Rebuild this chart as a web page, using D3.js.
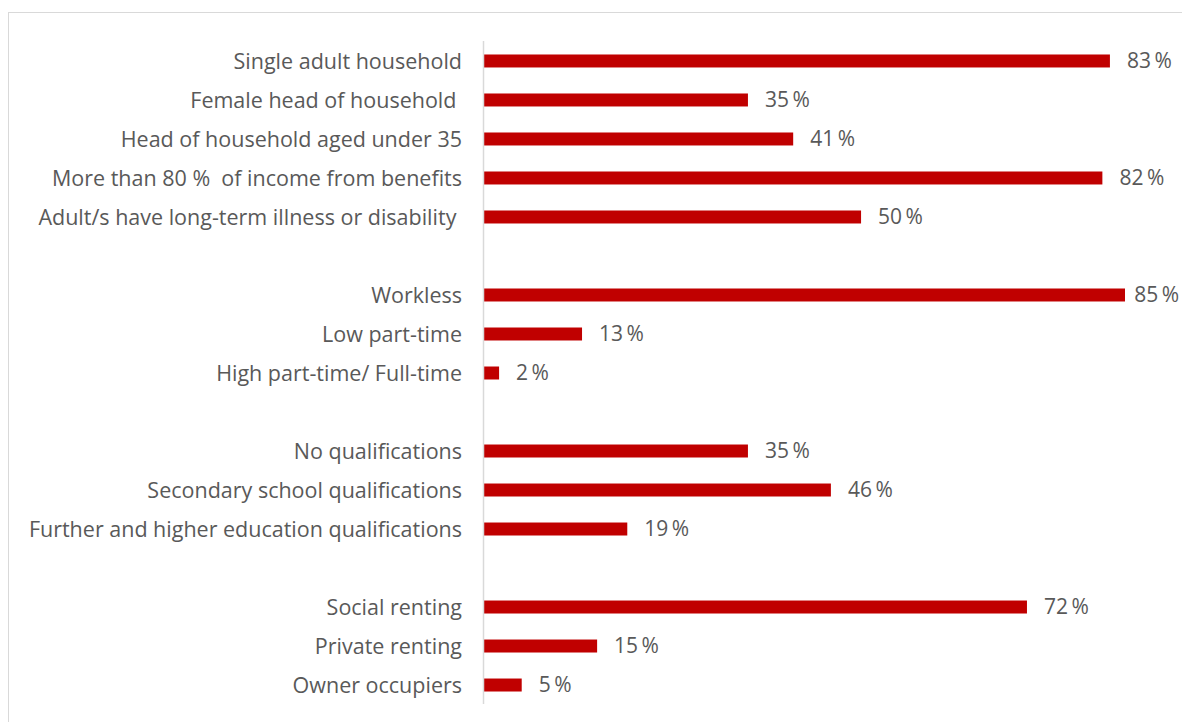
<!DOCTYPE html>
<html><head><meta charset="utf-8">
<script src="https://cdn.jsdelivr.net/npm/d3@7"></script>
<style>body{margin:0;background:#fff;} text{font-family:"Open Sans",sans-serif;}</style>
</head><body>
<svg id="c" width="1182" height="722"></svg>
<script>
const categories = [
  "Single adult household","Female head of household ","Head of household aged under 35",
  "More than 80 %  of income from benefits","Adult/s have long-term illness or disability ",
  null,
  "Workless","Low part-time","High part-time/ Full-time",
  null,
  "No qualifications","Secondary school qualifications","Further and higher education qualifications",
  null,
  "Social renting","Private renting","Owner occupiers"
];
const values = [83,35,41,82,50,null,85,13,2,null,35,46,19,null,72,15,5];

const svg = d3.select("#c");
svg.append("rect").attr("x",8.5).attr("y",12.5).attr("width",1200).attr("height",760)
  .attr("fill","none").attr("stroke","#d9d9d9");

const rows = categories.map((c,i)=>({i, c, v: values[i]}));
const y = d3.scaleBand().domain(rows.map(d=>d.i)).range([41.5,704.5]).paddingInner(0.667).paddingOuter(0.333);
const x = d3.scaleLinear().domain([0,85]).range([484,1125]);

const data = rows.filter(d=>d.c!==null);
svg.selectAll("rect.bar").data(data).enter().append("rect").attr("class","bar")
  .attr("x",x(0)).attr("y",d=>y(d.i)).attr("width",d=>x(d.v)-x(0)).attr("height",y.bandwidth())
  .attr("fill","#C00000");

svg.append("line").attr("x1",483.5).attr("x2",483.5).attr("y1",41).attr("y2",704)
  .attr("stroke","#d9d9d9").attr("stroke-width",1.5);

svg.selectAll("text.cat").data(data).enter().append("text").attr("class","cat")
  .attr("x",462).attr("y",d=>y(d.i)+y.bandwidth()/2).attr("dy","0.35em")
  .attr("text-anchor","end").attr("font-size",21.5).attr("fill","#595959")
  .style("white-space","pre").text(d=>d.c);

svg.selectAll("text.val").data(data).enter().append("text").attr("class","val")
  .attr("y",d=>y(d.i)+y.bandwidth()/2).attr("dy","0.35em")
  .attr("font-size",21).attr("fill","#595959")
  .text(d=>d.v+"\u2009%")
  .attr("x",function(d){ const w=this.getComputedTextLength(); return Math.min(x(d.v)+17, 1179-w); });
</script>
</body></html>
